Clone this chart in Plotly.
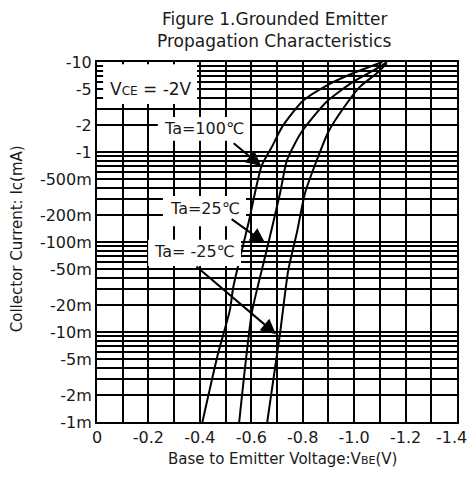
import plotly.graph_objects as go

# ---- data ----
vbe_100 = [-0.41, -0.47, -0.517, -0.53, -0.59, -0.64, -0.68, -0.72, -0.80, -0.90, -1.00, -1.11]
ic_100 = [0.001, 0.00565, 0.0176, 0.0316, 0.167, 0.70, 1.14, 1.9, 3.69, 5.62, 7.6, 10.0]

vbe_25 = [-0.553, -0.602, -0.641, -0.660, -0.712, -0.739, -0.796, -0.893, -0.997, -1.101, -1.127]
ic_25 = [0.001, 0.0163, 0.049, 0.0815, 0.35, 0.815, 1.68, 3.62, 6.04, 8.87, 10.0]

vbe_m25 = [-0.662, -0.712, -0.744, -0.777, -0.809, -0.852, -0.900, -0.958, -1.023, -1.088, -1.127]
ic_m25 = [0.001, 0.00975, 0.049, 0.126, 0.35, 0.774, 1.68, 3.06, 5.32, 7.49, 9.7]

x_tickvals = [0, -0.1, -0.2, -0.3, -0.4, -0.5, -0.6, -0.7, -0.8, -0.9, -1.0, -1.1, -1.2, -1.3, -1.4]
x_ticktext = ["0", "", "-0.2", "", "-0.4", "", "-0.6", "", "-0.8", "", "-1.0", "", "-1.2", "", ""]
x_last_label = "-1.4"   # drawn right-aligned at the page edge, as in the reference

y_labels = {10: "-10", 5: "-5", 2: "-2", 1: "-1", 0.5: "-500m", 0.2: "-200m", 0.1: "-100m",
            0.05: "-50m", 0.02: "-20m", 0.01: "-10m", 0.005: "-5m", 0.002: "-2m", 0.001: "-1m"}
decades = [0.001, 0.01, 0.1, 1]
mults = [1, 2, 3, 4, 5, 6, 7, 8, 9]

y_tickvals = [round(d * m, 6) for d in decades for m in mults] + [10]
y_ticktext = [y_labels.get(v, "") for v in y_tickvals]

FONT = "DejaVu Sans, Liberation Sans, Arial, sans-serif"
INK = "#1a1a1a"

fig = go.Figure()
for xs, ys in [(vbe_100, ic_100), (vbe_25, ic_25), (vbe_m25, ic_m25)]:
    fig.add_trace(go.Scatter(x=xs, y=ys, mode="lines",
                             line=dict(color="black", width=2, shape="spline", smoothing=0.6),
                             showlegend=False, hoverinfo="skip"))

tickfont = dict(size=16, color=INK, family=FONT)
fig.update_xaxes(range=[0, -1.4], tickvals=x_tickvals, ticktext=x_ticktext,
                 showgrid=True, gridcolor="black", gridwidth=2,
                 showline=True, linecolor="black", linewidth=2, mirror=True,
                 zeroline=False, ticks="", tickfont=tickfont, automargin=False)
fig.update_yaxes(type="log", range=[-3, 1], tickvals=y_tickvals, ticktext=y_ticktext,
                 showgrid=True, gridcolor="black", gridwidth=2,
                 showline=True, linecolor="black", linewidth=2, mirror=True,
                 zeroline=False, ticks="", tickfont=tickfont, automargin=False,
                 ticklabeloverflow="allow")

# white label boxes covering the grid
boxes = [(0.017, 0.278, 0.883, 0.994),
         (0.169, 0.425, 0.781, 0.847),
         (0.183, 0.414, 0.544, 0.628),
         (0.142, 0.400, 0.433, 0.506)]
for x0, x1, y0, y1 in boxes:
    fig.add_shape(type="rect", xref="paper", yref="paper", x0=x0, x1=x1, y0=y0, y1=y1,
                  fillcolor="white", line=dict(width=0), layer="above")

def f(size):
    return dict(size=size, color=INK, family=FONT)

ann = [
    dict(x=0.494, y=1.120, text="Figure 1.Grounded Emitter", font=f(17)),
    dict(x=0.494, y=1.057, text="Propagation Characteristics", font=f(17)),
    dict(x=0.514, y=-0.103, text="Base to Emitter Voltage:V<span style='font-size:11px'>BE</span>(V)", font=f(15)),
    dict(x=-0.222, y=0.508, text="Collector Current: Ic(mA)", textangle=-90, font=f(15)),
    dict(x=0.150, y=0.925, text="V<span style='font-size:12px'>CE</span> = -2V", font=f(17)),
    dict(x=0.297, y=0.814, text="Ta=100℃", font=f(16)),
    dict(x=0.300, y=0.594, text="Ta=25℃", font=f(16)),
    dict(x=0.272, y=0.475, text="Ta= -25℃", font=f(16)),
]
for a in ann:
    fig.add_annotation(xref="paper", yref="paper", showarrow=False,
                       xanchor="center", yanchor="middle", **a)

fig.add_annotation(xref="paper", yref="paper", x=1.031, y=-0.042, text=x_last_label,
                   showarrow=False, xanchor="right", yanchor="middle", font=f(16),
                   borderpad=0)

arrows = [(0.456, 0.711, -29, -24), (0.467, 0.497, -35, -25), (0.497, 0.244, -81, -69)]
for hx, hy, ax, ay in arrows:
    fig.add_annotation(xref="paper", yref="paper", x=hx, y=hy, ax=ax, ay=ay,
                       axref="pixel", ayref="pixel", text="", showarrow=True,
                       arrowhead=2, arrowsize=1.5, arrowwidth=2, arrowcolor="black")

fig.update_layout(width=470, height=478, margin=dict(l=97, r=13, t=62, b=56),
                  plot_bgcolor="white", paper_bgcolor="white", font=f(16))

# remove the default 8px page margin so the figure fills the window exactly
fig.write_html("out.html", config={"displayModeBar": False},
               post_script="document.body.style.margin='0';document.body.style.overflow='hidden';")
